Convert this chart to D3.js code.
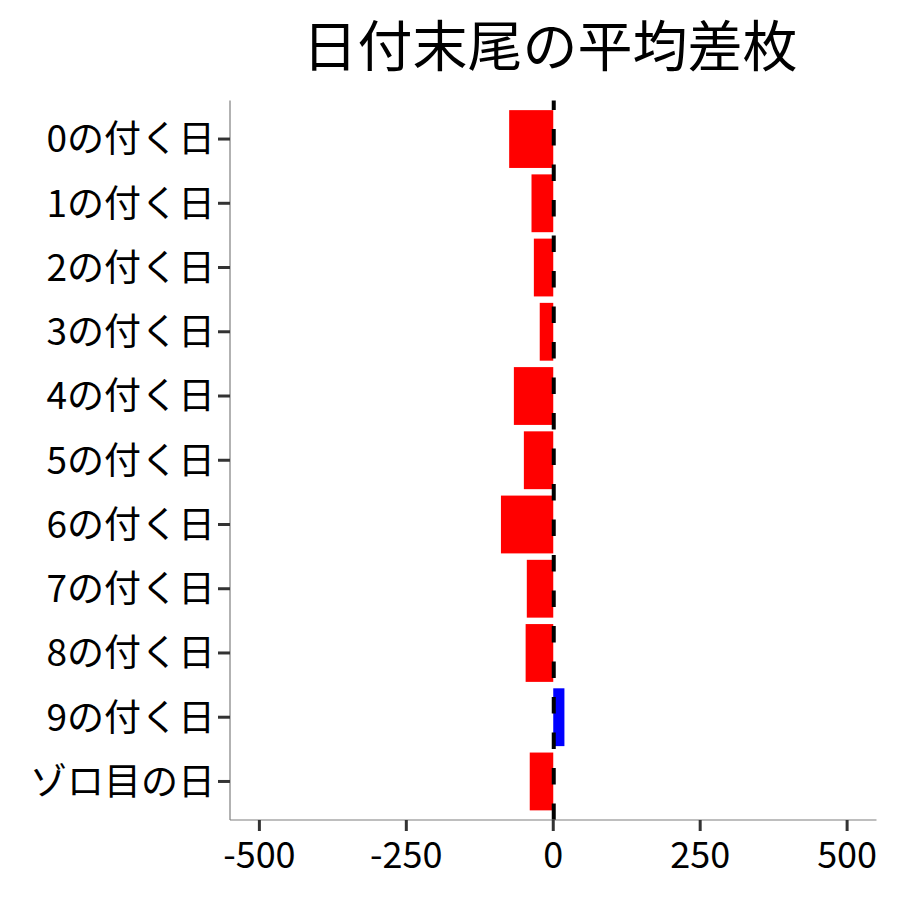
<!DOCTYPE html>
<html>
<head>
<meta charset="utf-8">
<script src="https://cdn.jsdelivr.net/npm/d3@7"></script>
<style>
  body { margin: 0; background: #fff; }
  text { font-family: "Noto Sans CJK JP", "Noto Sans", sans-serif; }
</style>
</head>
<body>
<svg width="900" height="900"></svg>
<script>
// values
var categories = ["0の付く日", "1の付く日", "2の付く日", "3の付く日", "4の付く日",
                  "5の付く日", "6の付く日", "7の付く日", "8の付く日", "9の付く日", "ゾロ目の日"];
var values = [-75, -37, -33, -23, -67, -50, -89, -45, -47, 19, -40];
var xTicks = [-500, -250, 0, 250, 500];
var title = "日付末尾の平均差枚";

var margins = { top: 100.5, bottom: 80, left: 230, right: 23.5 };
var width = 900 - margins.left - margins.right;
var height = 820 - margins.top;

var svg = d3.select("svg");

var xScale = d3.scaleLinear()
  .domain([-550, 550])
  .range([0, width]);

// ggplot style discrete expansion: 0.6 of a step on each end
var n = categories.length;
var step = height / (n - 1 + 1.2);
var yCenter = function(i) { return step * 0.6 + i * step; };
var barH = step * 0.9;

var g = svg.append("g")
  .attr("transform", "translate(" + margins.left + "," + margins.top + ")");

var data = categories.map(function(c, i) { return { cat: c, val: values[i], i: i }; });

g.selectAll("rect.bar")
  .data(data)
  .enter()
  .append("rect")
  .attr("class", "bar")
  .attr("x", function(d) { return xScale(Math.min(0, d.val)); })
  .attr("width", function(d) { return Math.abs(xScale(d.val) - xScale(0)); })
  .attr("y", function(d) { return yCenter(d.i) - barH / 2; })
  .attr("height", barH)
  .attr("fill", function(d) { return d.val < 0 ? "#FF0000" : "#0000FF"; });

// dashed zero line, pattern starting from the bottom
g.append("line")
  .attr("x1", xScale(0) + 0.5).attr("x2", xScale(0) + 0.5)
  .attr("y1", height).attr("y2", 0)
  .attr("stroke", "#000")
  .attr("stroke-width", 4)
  .attr("stroke-dasharray", "16.5,19");

// axes lines
g.append("line")
  .attr("x1", 0).attr("x2", 0).attr("y1", 0).attr("y2", height)
  .attr("stroke", "#7f7f7f").attr("stroke-width", 1.2);
g.append("line")
  .attr("x1", 0).attr("x2", width).attr("y1", height).attr("y2", height)
  .attr("stroke", "#7f7f7f").attr("stroke-width", 1.2);

// x ticks + labels
var xt = g.selectAll("g.xt")
  .data(xTicks)
  .enter()
  .append("g")
  .attr("transform", function(d) { return "translate(" + xScale(d) + "," + height + ")"; });
xt.append("line")
  .attr("y1", 0).attr("y2", 11)
  .attr("stroke", "#333").attr("stroke-width", 3);
xt.append("text")
  .attr("y", 48)
  .attr("text-anchor", "middle")
  .attr("font-size", 36)
  .attr("fill", "#000")
  .text(function(d) { return d; });

// y ticks + labels
var yt = g.selectAll("g.yt")
  .data(data)
  .enter()
  .append("g")
  .attr("transform", function(d) { return "translate(0," + yCenter(d.i) + ")"; });
yt.append("line")
  .attr("x1", -12).attr("x2", 0)
  .attr("stroke", "#333").attr("stroke-width", 3);
yt.append("text")
  .attr("x", -15)
  .attr("dy", "0.36em")
  .attr("text-anchor", "end")
  .attr("font-size", 37)
  .attr("fill", "#000")
  .text(function(d) { return d.cat; });

svg.append("text")
  .attr("x", 550)
  .attr("y", 66)
  .attr("text-anchor", "middle")
  .attr("font-size", 55)
  .attr("fill", "#000")
  .text(title);
</script>
</body>
</html>
